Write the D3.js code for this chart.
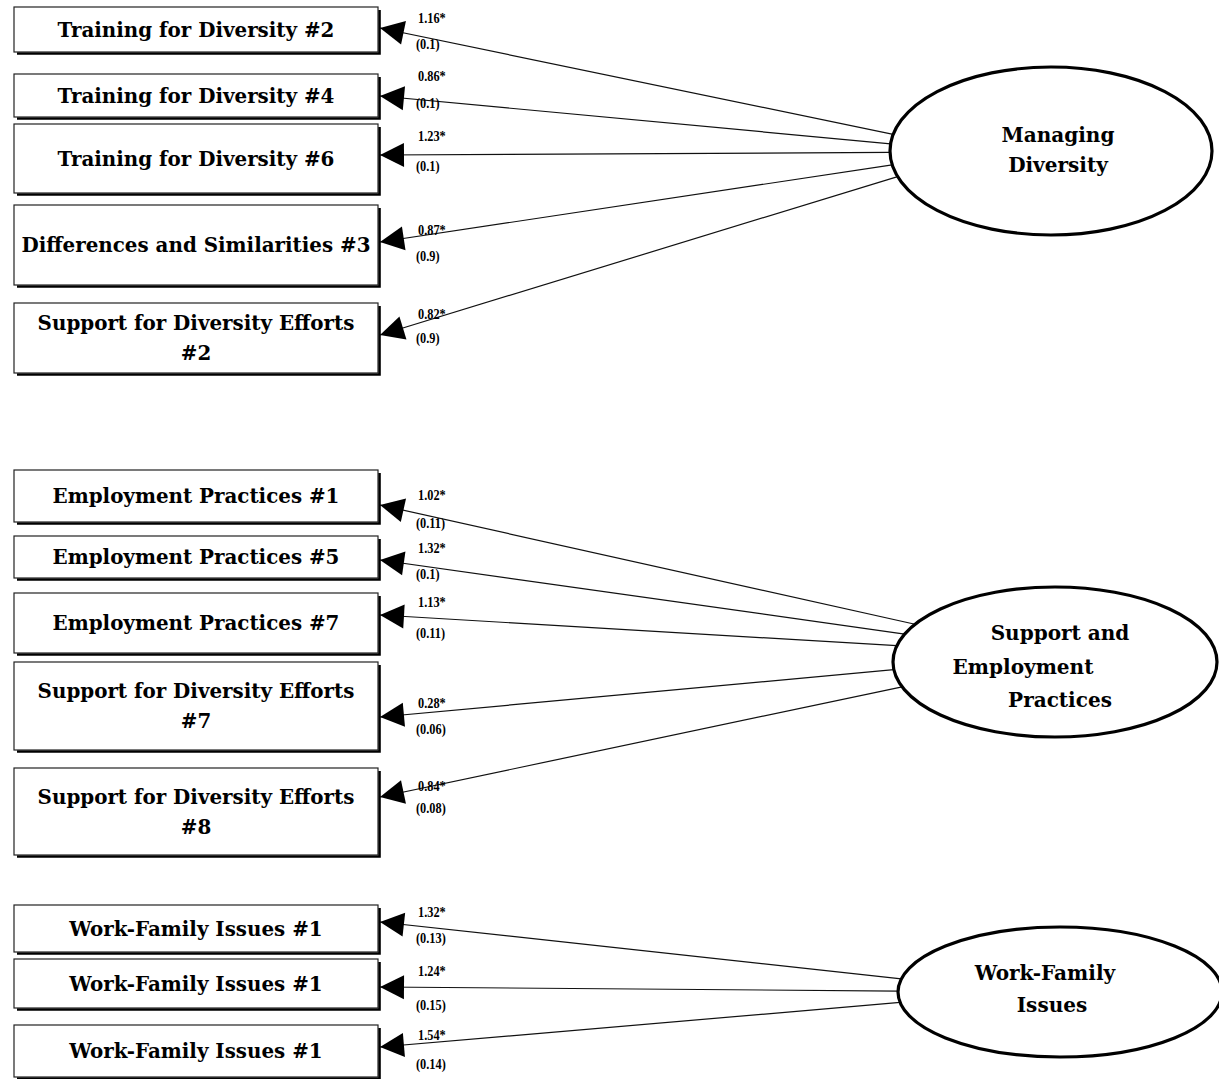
<!doctype html>
<html>
  <head>
    <script src="https://cdn.jsdelivr.net/npm/d3@7/dist/d3.min.js"></script>
    <style>
      body { margin: 0; background: #fff; }
      svg { display: block; }
    </style>
  </head>
  <body>
    <svg width="1219" height="1079"></svg>

    <script type="text/javascript">

        // ---- data ----
        var factors = ["Managing\nDiversity", "Support and\nEmployment\nPractices", "Work-Family\nIssues"];

        var indicators = [
            "Training for Diversity #2",
            "Training for Diversity #4",
            "Training for Diversity #6",
            "Differences and Similarities #3",
            "Support for Diversity Efforts\n#2",
            "Employment Practices #1",
            "Employment Practices #5",
            "Employment Practices #7",
            "Support for Diversity Efforts\n#7",
            "Support for Diversity Efforts\n#8",
            "Work-Family Issues #1",
            "Work-Family Issues #1",
            "Work-Family Issues #1"
        ];
        var indicatorFactor = [0, 0, 0, 0, 0, 1, 1, 1, 1, 1, 2, 2, 2];
        var loadings  = [1.16, 0.86, 1.23, 0.87, 0.82, 1.02, 1.32, 1.13, 0.28, 0.84, 1.32, 1.24, 1.54];
        var stdErrors = [0.1, 0.1, 0.1, 0.9, 0.9, 0.11, 0.1, 0.11, 0.06, 0.08, 0.13, 0.15, 0.14];

        // ---- layout (pixels) ----
        var boxLeft = 14, boxRight = 378;
        var boxTop    = [7, 74, 124, 205, 303, 470, 536, 593, 662, 768, 905, 959, 1025];
        var boxBottom = [52, 117, 193, 285, 373, 522, 578, 653, 750, 855, 952, 1008, 1077];
        var arrowY    = [28, 96, 155, 242, 335, 505, 560, 615, 717, 797, 922, 987, 1047];
        var coefTopY  = [18, 76, 136, 230, 314, 495, 548, 602, 703, 786, 912, 971, 1035];
        var coefBotY  = [44, 103, 166, 256, 338, 523, 574, 633, 729, 808, 938, 1005, 1064];

        var ellipses = [
            {cx: 1051, cy: 151, rx: 161, ry: 84, fx: 978, fy: 152},
            {cx: 1055, cy: 662, rx: 162, ry: 75, fx: 1053, fy: 655},
            {cx: 1060, cy: 992, rx: 162, ry: 65, fx: 1022, fy: 992}
        ];
        var factorLineDx = [[7, 7], [5, -32, 5], [-15, -8]];
        var factorLineDy = [[-9, 21], [-22, 12, 45], [-12, 20]];

        var svg = d3.select("svg");
        var boxFont = "'DejaVu Serif', serif";
        var coefFont = "'Liberation Serif', 'Times New Roman', serif";
        var fmt = d3.format(".2f");

        // fit the box font so the reference label has the printed width
        function fitSize(text, target, family) {
            var t = svg.append("text").attr("font-family", family)
                .attr("font-weight", "bold").attr("font-size", 20).text(text);
            var w = t.node().getComputedTextLength();
            t.remove();
            return 20 * target / w;
        }
        var boxSize = fitSize("Training for Diversity #2", 277, boxFont);
        var ellSize = fitSize("Managing", 113, boxFont);

        // ---- links (drawn first, boxes and ellipses on top) ----
        function ellipseHit(ax, ay, e) {
            var dx = e.fx - ax, dy = e.fy - ay;
            var px = ax - e.cx, py = ay - e.cy;
            var a = dx * dx / (e.rx * e.rx) + dy * dy / (e.ry * e.ry);
            var b = 2 * (px * dx / (e.rx * e.rx) + py * dy / (e.ry * e.ry));
            var c = px * px / (e.rx * e.rx) + py * py / (e.ry * e.ry) - 1;
            var t = (-b - Math.sqrt(b * b - 4 * a * c)) / (2 * a);
            return [ax + t * dx, ay + t * dy];
        }

        var links = indicators.map(function(d, i) {
            var tip = [boxRight + 2, arrowY[i]];
            var end = ellipseHit(tip[0], tip[1], ellipses[indicatorFactor[i]]);
            return {i: i, tip: tip, end: end};
        });

        var gLinks = svg.append("g");
        gLinks.selectAll("line").data(links).join("line")
            .attr("x1", d => d.tip[0]).attr("y1", d => d.tip[1])
            .attr("x2", d => d.end[0]).attr("y2", d => d.end[1])
            .attr("stroke", "#111").attr("stroke-width", 1.2);

        // arrowheads, pointing along the link
        gLinks.selectAll("path.head").data(links).join("path")
            .attr("class", "head")
            .attr("fill", "#000")
            .attr("d", function(d) {
                var ang = Math.atan2(d.end[1] - d.tip[1], d.end[0] - d.tip[0]);
                var len = 24, half = 12;
                var bx = d.tip[0] + len * Math.cos(ang), by = d.tip[1] + len * Math.sin(ang);
                var nx = -Math.sin(ang) * half, ny = Math.cos(ang) * half;
                return "M" + d.tip[0] + "," + d.tip[1] +
                       "L" + (bx + nx) + "," + (by + ny) +
                       "L" + (bx - nx) + "," + (by - ny) + "Z";
            });

        // coefficient labels (slightly condensed, like the printed figure)
        var gCoef = svg.append("g")
            .attr("font-family", coefFont).attr("font-weight", "bold")
            .attr("font-size", 14).attr("fill", "#000");
        gCoef.selectAll("text.load").data(loadings).join("text")
            .attr("class", "load")
            .attr("transform", (d, i) => "translate(418," + (coefTopY[i] + 5) + ") scale(0.88,1)")
            .text(d => fmt(d) + "*");
        gCoef.selectAll("text.se").data(stdErrors).join("text")
            .attr("class", "se")
            .attr("transform", (d, i) => "translate(416," + (coefBotY[i] + 5) + ") scale(0.88,1)")
            .text(d => "(" + d + ")");

        // ---- indicator boxes ----
        var gBox = svg.append("g").selectAll("g").data(indicators).join("g");
        gBox.append("path")   // drop shadow on right and bottom
            .attr("fill", "none").attr("stroke", "#000").attr("stroke-width", 2.6)
            .attr("d", (d, i) => "M" + (boxRight + 1.5) + "," + (boxTop[i] + 3) +
                "V" + (boxBottom[i] + 1.5) + "H" + (boxLeft + 3));
        gBox.append("rect")
            .attr("x", boxLeft).attr("y", (d, i) => boxTop[i])
            .attr("width", boxRight - boxLeft)
            .attr("height", (d, i) => boxBottom[i] - boxTop[i])
            .attr("fill", "#fff").attr("stroke", "#222").attr("stroke-width", 1.2);
        gBox.each(function(d, i) {
            var lines = d.split("\n");
            var mid = (boxTop[i] + boxBottom[i]) / 2;
            var gap = 30;
            d3.select(this).selectAll("text").data(lines).join("text")
                .attr("x", (boxLeft + boxRight) / 2)
                .attr("y", (l, j) => mid + (j - (lines.length - 1) / 2) * gap + boxSize * 0.36)
                .attr("text-anchor", "middle")
                .attr("font-family", boxFont).attr("font-weight", "bold")
                .attr("font-size", boxSize).attr("fill", "#000")
                .text(l => l);
        });

        // ---- latent factor ellipses ----
        var gEll = svg.append("g").selectAll("g").data(factors).join("g");
        gEll.append("ellipse")
            .attr("cx", (d, i) => ellipses[i].cx).attr("cy", (d, i) => ellipses[i].cy)
            .attr("rx", (d, i) => ellipses[i].rx).attr("ry", (d, i) => ellipses[i].ry)
            .attr("fill", "#fff").attr("stroke", "#000").attr("stroke-width", 3.2);
        gEll.each(function(d, i) {
            var e = ellipses[i];
            d3.select(this).selectAll("text").data(d.split("\n")).join("text")
                .attr("x", (l, j) => e.cx + factorLineDx[i][j])
                .attr("y", (l, j) => e.cy + factorLineDy[i][j])
                .attr("text-anchor", "middle")
                .attr("font-family", boxFont).attr("font-weight", "bold")
                .attr("font-size", ellSize).attr("fill", "#000")
                .text(l => l);
        });

    </script>
  </body>
</html>
